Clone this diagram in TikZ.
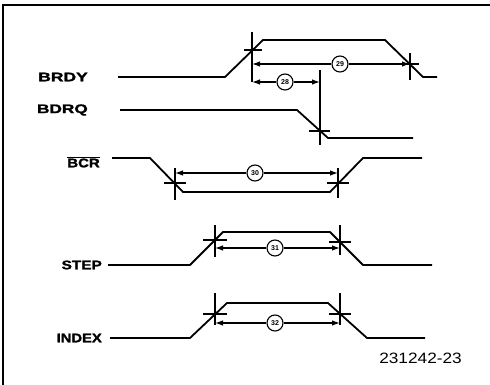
\documentclass[tikz,border=0pt]{standalone}
\usepackage{fontspec}
\setmainfont{Liberation Sans}
\newfontfamily\heavyfont[FakeBold=1.5]{Liberation Sans Bold}
\usetikzlibrary{arrows.meta}
\begin{document}
\begin{tikzpicture}[x=1pt,y=-1pt,
 sig/.style={line width=1.8pt, line join=round},
 tick/.style={line width=1.5pt},
 dim/.style={line width=1.2pt, -{Latex[length=8pt,width=5.5pt]}},
 num/.style={circle, draw, line width=1.1pt, minimum size=16pt, inner sep=0pt, fill=white,
   font=\bfseries\fontsize{7}{7}\selectfont},
 lbl/.style={anchor=east, inner sep=0pt, font=\heavyfont\fontsize{12.5}{12.5}\selectfont}]
\useasboundingbox (0,0) rectangle (490,385);
% frame
\draw[line width=1.5pt] (3,385) -- (3,5) -- (490,5);

% signal labels
\node[lbl] (lbrdy) at (88,77) {\scalebox{1.4}[1]{BRDY}};
\node[lbl] (lbdrq) at (88,110) {\scalebox{1.38}[1]{BDRQ}};
\node[lbl] (lbcr) at (100,162) {\scalebox{1.2}[1]{$\overline{\mbox{BCR}}$}};
\node[lbl] (lstep) at (102,265) {\scalebox{1.23}[1]{STEP}};
\node[lbl] (lindex) at (102,338) {\scalebox{1.18}[1]{INDEX}};
\node[anchor=east, inner sep=0pt, font=\fontsize{15}{15}\selectfont] (code) at (462,358) {\scalebox{1.15}[1]{231242-23}};

% waveforms
\draw[sig] (118,77) -- (225,77) -- (263,40) -- (385,40) -- (423,77) -- (437,77);
\draw[sig] (120,110) -- (297,110) -- (328,138) -- (413,138);
\draw[sig] (112,158) -- (150,158) -- (183,192) -- (330,192) -- (363,158) -- (422,158);
\draw[sig] (108,265) -- (190,265) -- (223,232) -- (330,232) -- (363,265) -- (432,265);
\draw[sig] (110,338) -- (190,338) -- (227,303) -- (328,303) -- (367,338) -- (425,338);

% crosses
\draw[tick] (252,32) -- (252,82) (244,50) -- (262,50);
\draw[tick] (410,53) -- (410,80) (401,64) -- (419,64);
\draw[tick] (320,70) -- (320,145) (309,131) -- (330,131);
\draw[tick] (175,168) -- (175,200) (164,183) -- (186,183);
\draw[tick] (338,168) -- (338,198) (327,183) -- (349,183);
\draw[tick] (215,225) -- (215,257) (203,240) -- (227,240);
\draw[tick] (340,225) -- (340,255) (329,242) -- (351,242);
\draw[tick] (215,293) -- (215,325) (203,314) -- (227,314);
\draw[tick] (340,293) -- (340,325) (329,314) -- (351,314);

% dimension labels
\node[num] (n29) at (340,64) {29};
\node[num] (n28) at (285,82) {28};
\node[num] (n30) at (255,173) {30};
\node[num] (n31) at (275,248) {31};
\node[num] (n32) at (275,323) {32};

\coordinate (a29l) at (252,64);
\coordinate (a29r) at (410,64);
\coordinate (a28l) at (252,82);
\coordinate (a28r) at (320,82);
\coordinate (a30l) at (175,173);
\coordinate (a30r) at (338,173);
\coordinate (a31l) at (215,248);
\coordinate (a31r) at (340,248);
\coordinate (a32l) at (215,323);
\coordinate (a32r) at (340,323);

\draw[dim] (n29) -- (a29l);
\draw[dim] (n29) -- (a29r);
\draw[dim] (n28) -- (a28l);
\draw[dim] (n28) -- (a28r);
\draw[dim] (n30) -- (a30l);
\draw[dim] (n30) -- (a30r);
\draw[dim] (n31) -- (a31l);
\draw[dim] (n31) -- (a31r);
\draw[dim] (n32) -- (a32l);
\draw[dim] (n32) -- (a32r);
\end{tikzpicture}
\end{document}
